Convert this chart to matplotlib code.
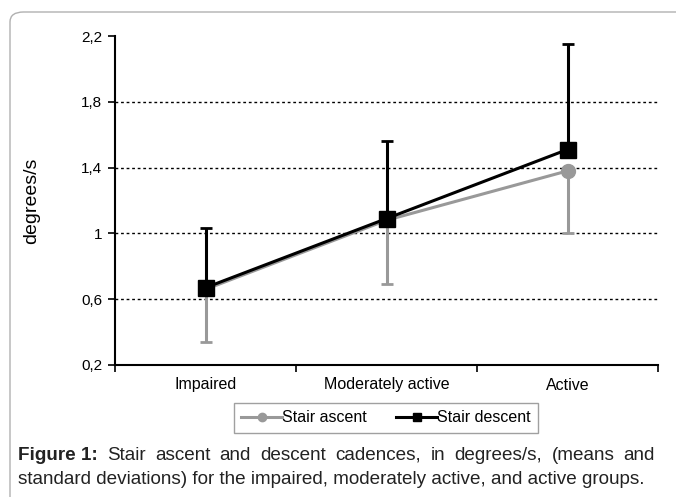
import matplotlib.pyplot as plt
from matplotlib.patches import FancyBboxPatch
from matplotlib.lines import Line2D

groups = ["Impaired", "Moderately active", "Active"]
ascent = [0.66, 1.08, 1.38]
ascent_sd = [0.32, 0.39, 0.38]
descent = [0.67, 1.09, 1.51]
descent_sd = [0.36, 0.47, 0.64]
yticks = [0.2, 0.6, 1.0, 1.4, 1.8, 2.2]
ytick_labels = ["0,2", "0,6", "1", "1,4", "1,8", "2,2"]

caption_bold = "Figure 1:"
caption_line1 = "Stair ascent and descent cadences, in degrees/s, (means and"
caption_line2 = "standard deviations) for the impaired, moderately active, and active groups."

plt.rcParams["font.family"] = ["Liberation Sans", "DejaVu Sans"]

W, H = 676, 497
fig = plt.figure(figsize=(W / 100, H / 100), dpi=100)

# rounded frame around the figure
frame = FancyBboxPatch((10 / W, -0.1), 1.2, (H - 12) / H + 0.1,
                       boxstyle="round,pad=0,rounding_size=0.02",
                       transform=fig.transFigure, fill=False,
                       edgecolor="#b0b0b0", linewidth=1.0, clip_on=False)
fig.patches.append(frame)

ax = fig.add_axes([115 / W, 1 - 365 / H, (658 - 115) / W, (365 - 36) / H])
x = list(range(len(groups)))

grey = "#999999"
ax.errorbar(x, ascent, yerr=[ascent_sd, [0] * 3], color=grey, lw=2.2,
            marker="o", ms=10, capsize=4, capthick=2, elinewidth=2.2, zorder=3)
ax.errorbar(x, descent, yerr=[[0] * 3, descent_sd], color="black", lw=2.2,
            marker="s", ms=11, capsize=4, capthick=2, elinewidth=2.2, zorder=4)

ax.set_xlim(-0.5, 2.5)
ax.set_ylim(0.2, 2.2)
ax.set_yticks(yticks)
ax.set_yticklabels(ytick_labels, fontsize=11)
for yv in yticks[1:-1]:
    ax.axhline(yv, color="black", linestyle=(0, (2, 2)), lw=1.0, zorder=1)

ax.set_xticks([-0.5, 0.5, 1.5, 2.5])
ax.set_xticklabels([])
ax.set_xticks(x, minor=True)
ax.set_xticklabels(groups, minor=True, fontsize=11.5)
ax.tick_params(axis="x", which="minor", length=0, pad=9)
ax.tick_params(axis="x", which="major", length=5, width=1.2, direction="out")
ax.tick_params(axis="y", length=5, width=1.2, direction="out", pad=4)

for s in ["top", "right"]:
    ax.spines[s].set_visible(False)
ax.spines["left"].set_linewidth(1.5)
ax.spines["bottom"].set_linewidth(1.5)
ax.set_ylabel("degrees/s", fontsize=14, labelpad=30)

handles = [
    Line2D([], [], color=grey, lw=2.2, marker="o", ms=6),
    Line2D([], [], color="black", lw=2.2, marker="s", ms=6),
]
leg = fig.legend(handles, ["Stair ascent", "Stair descent"], ncol=2,
                 loc="center", bbox_to_anchor=(386 / W, 1 - 418 / H),
                 fontsize=11.5, frameon=True, fancybox=False, handlelength=2.6,
                 handletextpad=0.0, columnspacing=1.8, borderpad=0.45)
leg.get_frame().set_edgecolor("#888888")
leg.get_frame().set_linewidth(1.0)

# justified caption (first line), left-aligned second line
fig.canvas.draw()
renderer = fig.canvas.get_renderer()
left, right = 18, 655
y1 = 1 - 455 / H
y2 = 1 - 479 / H
capsize = 13.6
words = [(caption_bold, "bold")] + [(w, "normal") for w in caption_line1.split()]
texts = []
total = 0
for w, weight in words:
    t = fig.text(0, y1, w, fontsize=capsize, fontweight=weight, color="#222222",
                 va="center", ha="left")
    wpx = t.get_window_extent(renderer).width
    texts.append((t, wpx))
    total += wpx
gap = (right - left - total) / (len(words) - 1)
pos = left
for t, wpx in texts:
    t.set_x(pos / W)
    pos += wpx + gap
fig.text(left / W, y2, caption_line2, fontsize=capsize, color="#222222",
         va="center", ha="left")

fig.savefig("out.png", dpi=100)
